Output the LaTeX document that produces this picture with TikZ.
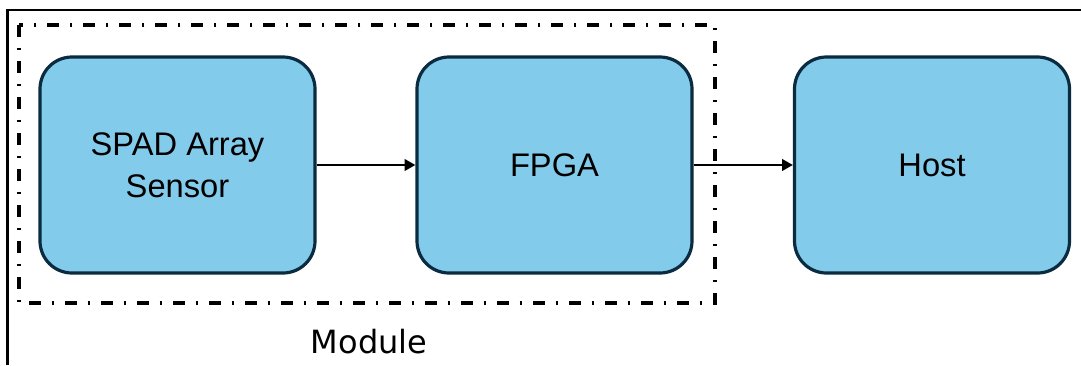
\documentclass[tikz,border=0pt]{standalone}
\usepackage{fontspec}
\setmainfont{Liberation Sans}
\newfontfamily\modfont{DejaVu Sans}
\usetikzlibrary{arrows.meta}
\definecolor{blockfill}{HTML}{83CBEB}
\definecolor{blockedge}{HTML}{0B2B40}
\tikzset{
  block/.style={draw=blockedge, fill=blockfill, line width=2.4pt,
    rounded corners=24pt, minimum width=206.25pt, minimum height=162pt,
    align=center, inner sep=0pt,
    font=\fontsize{24.5}{31.5}\selectfont},
  link/.style={line width=1.8pt, -{Triangle[length=8pt,width=8.5pt]}},
  frame/.style={line width=2pt},
  group/.style={line width=2.4pt,
    dash pattern=on 9pt off 8pt on 2pt off 8pt}
}
\begin{document}
\begin{tikzpicture}[x=0.75pt, y=-0.75pt]
  \useasboundingbox (0,0) rectangle (1081,365);
  % outer frame (top and left edges)
  \coordinate (ftr) at (1081,10);
  \coordinate (ftl) at (7.5,10);
  \coordinate (fbl) at (7.5,365);
  \draw[frame] (ftr) -- (ftl) -- (fbl);
  % module boundary
  \coordinate (mtl) at (19,25);
  \coordinate (mbr) at (715,303);
  \draw[group] (mtl) rectangle (mbr);
  % blocks
  \node[block] (spad) at (177.5,165) {SPAD Array\\Sensor};
  \node[block] (fpga) at (554.5,165) {FPGA};
  \node[block] (host) at (932,165) {Host};
  % data path
  \draw[link] (spad) -- (fpga);
  \draw[link] (fpga) -- (host);
  % module label
  \node[anchor=base, inner sep=0pt, font=\modfont\fontsize{24}{28}\selectfont]
    (modlabel) at (369,353) {Module};
\end{tikzpicture}
\end{document}
